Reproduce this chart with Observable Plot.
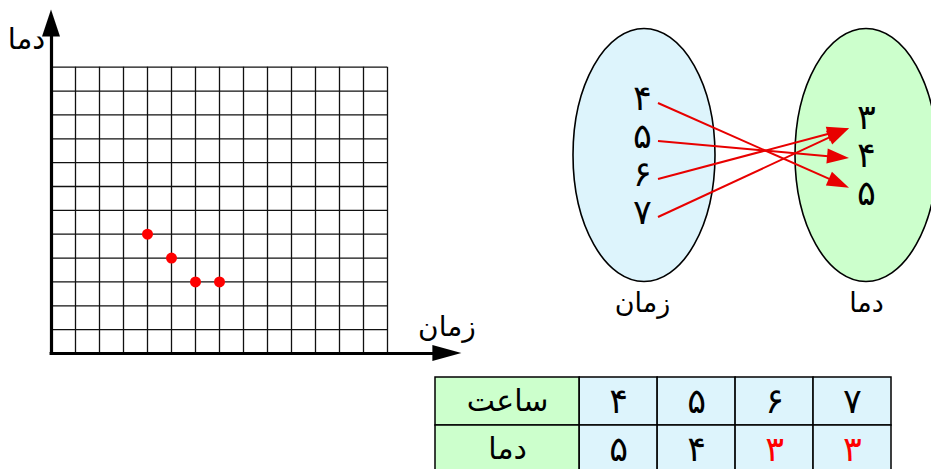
<!DOCTYPE html>
<html><head><meta charset="utf-8">
<script src="https://cdn.jsdelivr.net/npm/d3@7"></script>
<script src="https://cdn.jsdelivr.net/npm/@observablehq/plot@0.6"></script>
<style>
html,body{margin:0;padding:0;background:#fff;overflow:hidden}
#wrap{position:relative;width:931px;height:469px;overflow:hidden;font-family:"DejaVu Sans"}
#wrap svg{position:absolute;overflow:visible;background:none}
</style></head><body><div id="wrap"></div>
<script>
// ---- data ----
const hours = [4, 5, 6, 7];          // زمان (ساعت)
const temps = [5, 4, 3, 3];          // دما
const tempSet = [3, 4, 5];           // range set
const xLabel = "زمان";
const yLabel = "دما";
const rowLabels = ["ساعت", "دما"];
const gridCols = 14, gridRows = 12;

const fa = n => String(n).replace(/\d/g, d => "۰۱۲۳۴۵۶۷۸۹"[d]);
const wrap = document.getElementById("wrap");
const font = {fontFamily: "DejaVu Sans", background: "none", overflow: "visible"};

// ---- grid chart ----
const points = hours.map((h, i) => ({x: h, y: temps[i]}));
const xEnd = 17.1, yEnd = 14.4;
function axisHeads(index, {x, y}) {
  const g = d3.create("svg:g").attr("fill", "#000");
  const ox = x(0), oy = y(0), tx = x(xEnd), ty = y(yEnd);
  g.append("path").attr("d", `M${tx},${oy}L${tx - 29},${oy - 8}L${tx - 29},${oy + 8}Z`);
  g.append("path").attr("d", `M${ox},${ty}L${ox - 9},${ty + 27}L${ox + 9},${ty + 27}Z`);
  return g.node();
}
const chartA = Plot.plot({
  width: 480, height: 469,
  marginLeft: 51, marginRight: 93, marginTop: 66.7, marginBottom: 116,
  style: font,
  x: {domain: [0, gridCols], axis: null},
  y: {domain: [0, gridRows], axis: null},
  marks: [
    Plot.ruleX(d3.range(0, gridCols + 1), {y1: 0, y2: gridRows, stroke: "#111", strokeWidth: 1.3}),
    Plot.ruleY(d3.range(0, gridRows + 1), {x1: 0, x2: gridCols, stroke: "#111", strokeWidth: 1.3}),
    Plot.ruleX([0], {y1: 0, y2: yEnd - 0.5, stroke: "#000", strokeWidth: 3.2}),
    Plot.ruleY([0], {x1: -0.06, x2: xEnd - 0.5, stroke: "#000", strokeWidth: 3.2}),
    axisHeads,
    Plot.dot(points, {x: "x", y: "y", r: 5.5, fill: "#ff0000", stroke: "none"}),
    Plot.text([yLabel], {x: 0, y: yEnd, text: d => d, dx: -25, dy: 30, fontSize: 29, fill: "#000"}),
    Plot.text([xLabel], {x: xEnd, y: 0, text: d => d, dx: -15, dy: -26, fontSize: 28, fill: "#000"})
  ]
});
chartA.style.left = "0px"; chartA.style.top = "0px";
wrap.appendChild(chartA);

// ---- mapping diagram ----
const setNames = [xLabel, yLabel];
const setFills = ["#ddf4fc", "#ccffcc"];
const leftItems = hours.map((h, k) => ({set: 0, v: h, y: k - (hours.length - 1) / 2}));
const rightItems = tempSet.map((t, k) => ({set: 1, v: t, y: k - (tempSet.length - 1) / 2}));
const links = hours.map((h, i) => ({from: leftItems[i], to: rightItems[tempSet.indexOf(temps[i])]}));

function ellipses(index, {x, y}) {
  const g = d3.create("svg:g");
  setNames.forEach((s, i) => g.append("ellipse")
    .attr("cx", x(i) + 2 - 2 * i).attr("cy", y(0)).attr("rx", 71).attr("ry", 126.5)
    .attr("fill", setFills[i]).attr("stroke", "#000").attr("stroke-width", 1.6));
  return g.node();
}
function arrows(index, {x, y}) {
  const g = d3.create("svg:g");
  const L = 22, W = 7.5;
  for (const {from, to} of links) {
    const x0 = x(from.set) + 16, y0 = y(from.y) + 5;
    const x1 = x(to.set) - 17, y1 = y(to.y * 0.78) + 3;
    const len = Math.hypot(x1 - x0, y1 - y0), ux = (x1 - x0) / len, uy = (y1 - y0) / len;
    const bx = x1 - ux * L, by = y1 - uy * L;
    g.append("line").attr("x1", x0).attr("y1", y0).attr("x2", bx + ux).attr("y2", by + uy)
      .attr("stroke", "#e80000").attr("stroke-width", 2);
    g.append("path").attr("d", `M${x1},${y1}L${bx - uy * W},${by + ux * W}L${bx + uy * W},${by - ux * W}Z`)
      .attr("fill", "#e80000");
  }
  return g.node();
}
const chartB = Plot.plot({
  width: 371, height: 340,
  marginLeft: 82, marginRight: 65, marginTop: 98, marginBottom: 128,
  style: font,
  x: {domain: [0, 1], axis: null},
  y: {domain: [-1.5, 1.5], reverse: true, axis: null},
  marks: [
    ellipses,
    Plot.text(leftItems.concat(rightItems), {x: "set", y: "y", text: d => fa(d.v), fontSize: 35, fill: "#000"}),
    arrows,
    Plot.text(setNames, {x: (d, i) => i, y: 4, dy: -4, text: d => d, fontSize: 27, fill: "#000"})
  ]
});
chartB.style.left = "560px"; chartB.style.top = "0px";
wrap.appendChild(chartB);

// ---- table ----
const headerSpan = 1.85;
const cells = [];
rowLabels.forEach((r, ri) => {
  cells.push({row: r, x1: -headerSpan, x2: 0, text: r, header: true, red: false});
  const vals = ri === 0 ? hours : temps;
  vals.forEach((v, i) => cells.push({
    row: r, x1: i, x2: i + 1, text: fa(v), header: false,
    red: ri === 1 && temps.filter(t => t === v).length > 1
  }));
});
const chartC = Plot.plot({
  width: 458, height: 98,
  marginLeft: 1, marginRight: 1, marginTop: 1, marginBottom: 1,
  style: font,
  x: {domain: [-headerSpan, hours.length], axis: null},
  y: {domain: rowLabels, padding: 0, axis: null},
  color: {type: "identity"},
  marks: [
    Plot.barX(cells, {x1: "x1", x2: "x2", y: "row", fill: d => d.header ? "#ccffcc" : "#ddf4fc", stroke: "#000", strokeWidth: 1.5}),
    Plot.text(cells, {x: d => (d.x1 + d.x2) / 2, y: "row", text: "text", fill: d => d.red ? "#ff0000" : "#000",
      fontSize: d => d.header ? 30 : 35})
  ]
});
chartC.style.left = "434px"; chartC.style.top = "376px";
wrap.appendChild(chartC);
</script></body></html>
